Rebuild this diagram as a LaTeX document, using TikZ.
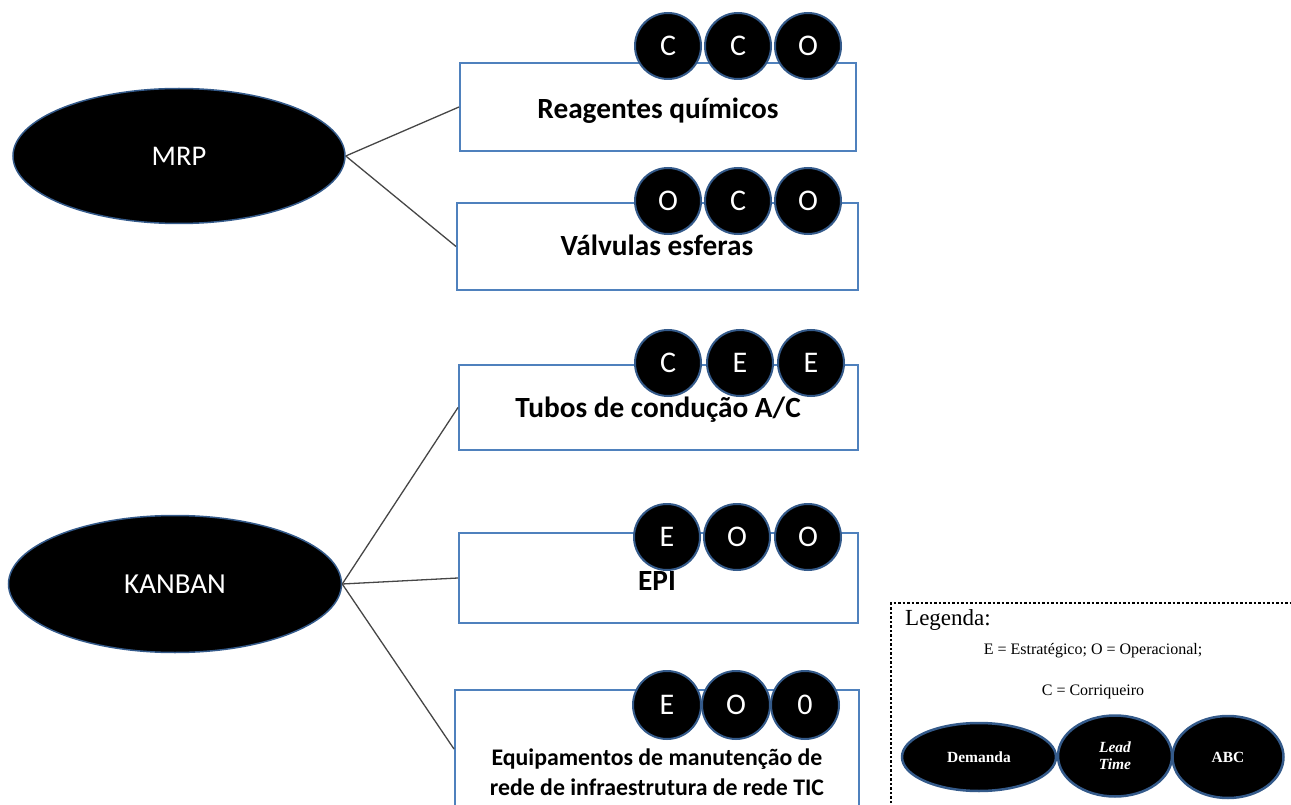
\documentclass[tikz,border=0pt]{standalone}
\usepackage{fontspec}
\setmainfont{Carlito}
\newfontfamily\legendfont{Liberation Serif}
\usetikzlibrary{shapes.geometric}
\definecolor{boxblue}{RGB}{79,129,189}
\definecolor{rimblue}{RGB}{52,90,138}
\definecolor{linkgray}{RGB}{70,70,70}
\tikzset{
  method/.style={ellipse, fill=black, draw=rimblue, line width=1.5pt, text=white,
    inner sep=0pt, font=\fontsize{28.5}{30}\selectfont},
  itembox/.style={draw=boxblue, line width=2pt, fill=white, inner sep=0pt},
  tag/.style={circle, fill=black, draw=rimblue, line width=2pt, minimum size=66pt,
    inner sep=0pt, text=white, font=\fontsize{30}{32}\selectfont},
  itemtext/.style={font=\bfseries\fontsize{29.3}{30}\selectfont, align=center, inner sep=0pt, anchor=base},
  longtext/.style={itemtext, font=\bfseries\fontsize{23.8}{30}\selectfont},
  link/.style={draw=linkgray, line width=1.3pt},
  legtext/.style={font=\legendfont\fontsize{16}{18}\selectfont, inner sep=0pt, anchor=base},
  legshape/.style={ellipse, fill=black, draw=rimblue, line width=2.5pt, text=white,
    inner sep=0pt, align=center, font=\legendfont\bfseries\fontsize{15.5}{18}\selectfont},
}
\begin{document}
\begin{tikzpicture}[x=1pt,y=-1pt]
\useasboundingbox (0,0) rectangle (1291,805);
\clip (0,0) rectangle (1291,805);

% planning methods
\node[method, minimum width=332pt, minimum height=135pt] (mrp) at (179,156) {MRP};
\node[method, minimum width=333pt, minimum height=137pt, font=\fontsize{29}{30}\selectfont] (kanban) at (175,584) {KANBAN};

% item boxes
\node[itembox, minimum width=396pt, minimum height=88pt] (b1) at (658,107) {};
\node[itembox, minimum width=401pt, minimum height=87pt] (b2) at (657.5,246.5) {};
\node[itembox, minimum width=399pt, minimum height=85pt] (b3) at (658.5,407.5) {};
\node[itembox, minimum width=399pt, minimum height=90pt] (b4) at (658.5,578) {};
\node[itembox, minimum width=404pt, minimum height=118pt] (b5) at (657,749) {};

% connectors
\draw[link] (mrp.east) -- (b1.west);
\draw[link] (mrp.east) -- (b2.west);
\draw[link] (kanban.east) -- (b3.west);
\draw[link] (kanban.east) -- (b4.west);
\draw[link] (kanban.east) -- (b5.west);

% item names
\node[itemtext] (t1) at (658,119) {Reagentes químicos};
\node[itemtext] (t2) at (657,256) {Válvulas esferas};
\node[itemtext] (t3) at (658,417) {Tubos de condução A/C};
\node[itemtext] (t4) at (657,590) {EPI};
\node[longtext] (t5a) at (657,765) {Equipamentos de manutenção de};
\node[longtext] (t5b) at (657,795) {rede de infraestrutura de rede TIC};

% classification tags
\node[tag] (c11) at (668,46) {C};
\node[tag] (c12) at (738,46) {C};
\node[tag] (c13) at (808,46) {O};

\node[tag] (c21) at (668,201) {O};
\node[tag] (c22) at (738,201) {C};
\node[tag] (c23) at (808,201) {O};

\node[tag] (c31) at (668,363) {C};
\node[tag] (c32) at (740,363) {E};
\node[tag] (c33) at (811,363) {E};

\node[tag] (c41) at (667,537) {E};
\node[tag] (c42) at (737,537) {O};
\node[tag] (c43) at (808,537) {O};

\node[tag, minimum size=68pt] (c51) at (667,705) {E};
\node[tag, minimum size=68pt] (c52) at (736,705) {O};
\node[tag, minimum size=68pt] (c53) at (805,705) {0};

% legend
\draw[line width=2.5pt, dotted] (891,830) -- (891,603) -- (1310,603);
\node[legtext, font=\legendfont\fontsize{23}{26}\selectfont, anchor=base west] (lg) at (905,625) {Legenda:};
\node[legtext] (l1) at (1093,654) {E = Estratégico; O = Operacional;};
\node[legtext] (l2) at (1093,695) {C = Corriqueiro};
\node[legshape, minimum width=154pt, minimum height=68pt] (dem) at (979,757) {Demanda};
\node[legshape, minimum width=114pt, minimum height=81pt] (lt) at (1115,756) {\itshape Lead\\[-1pt]\itshape Time};
\node[legshape, minimum width=111pt, minimum height=82pt] (abc) at (1228,757) {ABC};
\end{tikzpicture}
\end{document}
